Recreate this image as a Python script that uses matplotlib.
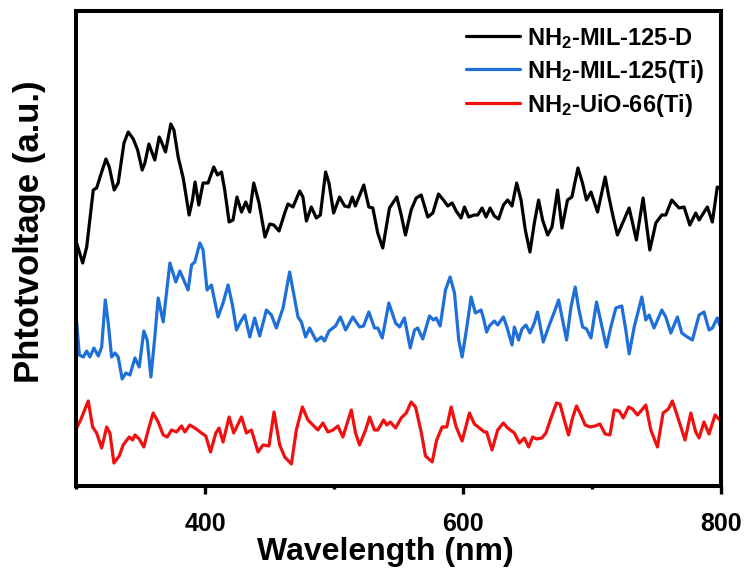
import matplotlib
matplotlib.use("Agg")
import matplotlib.pyplot as plt
from matplotlib.ticker import MultipleLocator

# wavelength (nm) / photovoltage (a.u.)
wl_d = [300.5, 305.2, 308.3, 313.4, 316.0, 319.9, 323.2, 325.8, 329.6, 332.7,
        337.2, 340.5, 344.4, 347.8, 351.3, 353.4, 356.5, 359.1, 361.1, 364.5,
        366.3, 369.4, 373.5, 375.9, 379.2, 383.1, 387.7, 390.3, 392.3, 395.2,
        398.5, 402.4, 406.8, 409.7, 412.8, 415.3, 418.7, 421.7, 424.8, 428.3,
        431.6, 434.7, 437.8, 441.9, 446.5, 450.2, 453.3, 457.4, 461.8, 464.3,
        468.2, 473.4, 475.9, 478.6, 482.4, 486.3, 489.4, 493.5, 496.1, 499.7,
        504.3, 508.2, 511.5, 514.2, 516.5, 523.1, 527.0, 530.1, 533.9, 537.8,
        543.0, 548.7, 552.1, 555.4, 559.8, 563.7, 567.6, 572.7, 576.6, 581.0,
        584.8, 588.2, 591.6, 594.7, 598.5, 601.1, 604.4, 608.8, 611.4, 614.8,
        617.9, 621.0, 624.3, 627.6, 631.3, 634.6, 638.0, 641.6, 645.0, 648.3,
        651.9, 655.3, 658.6, 661.7, 665.6, 669.0, 673.3, 676.7, 681.0, 684.4,
        689.1, 692.6, 695.7, 699.2, 704.3, 710.2, 712.8, 716.4, 719.7, 723.1,
        728.8, 734.4, 739.6, 744.8, 749.5, 754.1, 757.2, 761.8, 767.5, 771.4,
        775.8, 780.4, 783.0, 789.4, 793.3, 797.1, 799.0, 800.0]
pv_d = [246, 226, 242, 299, 301, 317, 330, 322, 299, 306,
        346, 357, 350, 339, 319, 326, 345, 336, 329, 352,
        347, 337, 365, 359, 332, 311, 274, 289, 307, 284,
        306, 306, 322, 314, 317, 299, 267, 269, 292, 277,
        287, 277, 306, 286, 252, 265, 264, 258, 276, 285,
        282, 298, 292, 268, 282, 271, 274, 317, 306, 276,
        292, 283, 282, 292, 283, 304, 282, 281, 256, 241,
        281, 292, 274, 254, 279, 291, 294, 272, 276, 295,
        289, 283, 286, 278, 271, 282, 272, 274, 274, 281,
        272, 281, 273, 270, 284, 289, 283, 306, 289, 259,
        237, 266, 289, 269, 254, 262, 299, 261, 289, 292,
        321, 306, 289, 297, 277, 312, 294, 272, 254, 264,
        281, 249, 291, 239, 266, 274, 274, 289, 281, 282,
        264, 276, 269, 282, 267, 302, 301, 299]

wl_ti = [300.5, 302.6, 305.7, 308.3, 310.8, 313.9, 317.3, 319.9, 322.7, 325.0,
         327.6, 330.2, 332.7, 335.8, 338.7, 341.8, 345.7, 349.0, 352.6, 355.2,
         358.1, 361.1, 363.7, 367.6, 372.8, 377.4, 380.5, 386.9, 389.6, 392.1,
         396.0, 398.5, 401.6, 405.0, 410.1, 414.0, 417.9, 421.3, 424.4, 427.5,
         430.8, 434.7, 438.5, 442.4, 447.6, 451.5, 455.3, 460.5, 465.6, 472.1,
         474.7, 478.0, 481.1, 486.3, 490.2, 492.7, 496.1, 501.2, 504.9, 509.0,
         514.6, 519.8, 522.9, 527.0, 531.4, 534.0, 537.4, 542.5, 547.7, 550.8,
         554.6, 559.1, 562.4, 564.9, 568.8, 574.0, 577.1, 579.2, 582.3, 586.4,
         590.0, 593.4, 596.7, 599.3, 602.4, 606.3, 609.6, 614.0, 615.8, 618.3,
         620.4, 624.3, 626.9, 631.3, 633.8, 638.0, 639.8, 643.1, 645.7, 648.8,
         651.9, 655.3, 657.8, 662.2, 666.9, 670.8, 674.1, 676.7, 680.3, 683.7,
         687.0, 689.6, 692.7, 695.8, 699.2, 703.5, 706.9, 711.2, 714.6, 718.5,
         723.1, 726.2, 728.8, 732.7, 738.6, 741.7, 744.3, 748.1, 754.1, 757.2,
         761.1, 766.2, 769.6, 773.9, 777.8, 783.0, 786.8, 790.7, 793.3, 797.1,
         799.0, 800.0]
pv_ti = [167, 134, 132, 138, 132, 141, 133, 142, 189, 166,
         132, 136, 132, 110, 116, 114, 131, 122, 158, 149,
         112, 152, 191, 167, 226, 207, 218, 199, 224, 227,
         246, 239, 199, 204, 172, 186, 204, 184, 159, 167,
         174, 152, 171, 153, 179, 174, 161, 181, 217, 172,
         167, 152, 161, 148, 152, 148, 158, 163, 172, 159,
         172, 162, 163, 177, 161, 161, 151, 186, 166, 162,
         171, 141, 159, 161, 150, 173, 169, 171, 163, 199,
         212, 196, 149, 132, 157, 192, 176, 179, 171, 157,
         163, 168, 164, 172, 163, 144, 162, 149, 160, 164,
         156, 166, 177, 147, 164, 177, 189, 172, 149, 182,
         202, 181, 162, 160, 151, 187, 167, 142, 162, 181,
         183, 159, 135, 162, 192, 169, 174, 161, 179, 172,
         156, 172, 156, 152, 149, 174, 177, 159, 161, 171,
         164, 164]

wl_uio = [300.5, 303.6, 309.5, 312.9, 316.0, 319.9, 323.8, 326.3, 329.4, 333.5,
          336.6, 341.3, 343.9, 345.7, 349.0, 352.6, 356.0, 359.8, 363.7, 367.6,
          370.7, 374.1, 377.9, 381.8, 384.4, 388.2, 392.1, 397.3, 400.6, 404.3,
          408.4, 410.9, 414.0, 418.7, 422.3, 428.3, 432.1, 436.0, 441.1, 445.0,
          449.6, 453.5, 457.9, 461.8, 467.0, 470.8, 475.5, 479.8, 483.7, 487.5,
          491.4, 495.3, 499.2, 503.0, 506.9, 513.4, 516.7, 519.8, 524.5, 527.6,
          531.4, 534.0, 538.4, 541.0, 543.6, 547.7, 552.1, 556.0, 559.8, 563.2,
          567.6, 570.9, 576.1, 579.6, 583.8, 587.4, 590.8, 594.7, 599.3, 605.0,
          608.8, 612.7, 616.6, 618.3, 622.5, 626.9, 631.3, 634.6, 639.8, 643.7,
          647.5, 650.9, 654.0, 657.1, 661.2, 664.3, 668.2, 672.5, 675.2, 678.5,
          681.8, 684.9, 688.0, 691.4, 694.7, 698.4, 702.5, 706.1, 710.2, 713.9,
          717.2, 721.1, 724.2, 728.3, 731.4, 735.2, 738.6, 741.7, 745.6, 750.7,
          755.1, 759.2, 762.3, 765.4, 769.6, 772.1, 776.6, 780.4, 783.0, 786.8,
          790.7, 795.4, 799.0, 800.0]
pv_uio = [61, 69, 88, 62, 56, 41, 62, 56, 26, 33,
          44, 52, 49, 54, 50, 42, 59, 76, 67, 54,
          52, 59, 57, 63, 57, 64, 61, 56, 53, 37,
          56, 61, 47, 72, 56, 72, 56, 59, 37, 44,
          43, 77, 44, 32, 25, 59, 82, 69, 64, 59,
          66, 57, 59, 63, 52, 79, 56, 44, 59, 72,
          59, 59, 69, 64, 67, 61, 71, 76, 87, 82,
          57, 33, 27, 49, 62, 62, 82, 62, 48, 76,
          65, 61, 57, 57, 39, 59, 66, 61, 56, 46,
          51, 42, 52, 50, 51, 56, 71, 86, 85, 69,
          54, 71, 83, 74, 64, 62, 63, 65, 55, 54,
          79, 78, 71, 82, 80, 74, 79, 84, 59, 42,
          76, 80, 88, 76, 59, 49, 76, 57, 51, 67,
          55, 74, 69, 69]

labels = ['NH$_2$-MIL-125-D', 'NH$_2$-MIL-125(Ti)', 'NH$_2$-UiO-66(Ti)']
colors = ['#000000', '#1f6fd8', '#f01010']

plt.rcParams['font.family'] = ['Liberation Sans', 'DejaVu Sans']
plt.rcParams['font.weight'] = 'bold'
plt.rcParams['mathtext.fontset'] = 'custom'
plt.rcParams['mathtext.rm'] = 'Liberation Sans:bold'
plt.rcParams['mathtext.bf'] = 'Liberation Sans:bold'
plt.rcParams['mathtext.it'] = 'Liberation Sans:bold'
plt.rcParams['mathtext.default'] = 'bf'

fig = plt.figure(figsize=(7.45, 5.68), dpi=100)
ax = fig.add_axes([0.102, 0.1444, 0.8658, 0.8362])

for wl, pv, lab, c in zip([wl_d, wl_ti, wl_uio], [pv_d, pv_ti, pv_uio], labels, colors):
    ax.plot(wl, pv, color=c, lw=2.3, label=lab,
            solid_joinstyle='round', solid_capstyle='round')

ax.set_xlim(300, 800)
ax.set_ylim(3, 478)
ax.set_yticks([])
ax.xaxis.set_major_locator(MultipleLocator(200))
ax.xaxis.set_minor_locator(MultipleLocator(100))
ax.tick_params(axis='x', which='major', direction='out', length=6, width=2.4,
               labelsize=18, pad=13)
ax.tick_params(axis='x', which='minor', direction='out', length=2.5, width=2.4)
for s in ax.spines.values():
    s.set_linewidth(2.9)

ax.set_xlabel('Wavelength (nm)', fontsize=23, fontweight='bold')
ax.xaxis.set_label_coords(0.48, -0.108)
ax.set_ylabel('Phtotvoltage (a.u.)', fontsize=25, fontweight='bold')
ax.yaxis.set_label_coords(-0.047, 0.535)

leg = ax.legend(loc='upper right', bbox_to_anchor=(1.008, 1.014), frameon=False,
                fontsize=17, handlelength=2.3, handletextpad=0.3, labelspacing=0.3)

fig.savefig('out.png', dpi=100)
